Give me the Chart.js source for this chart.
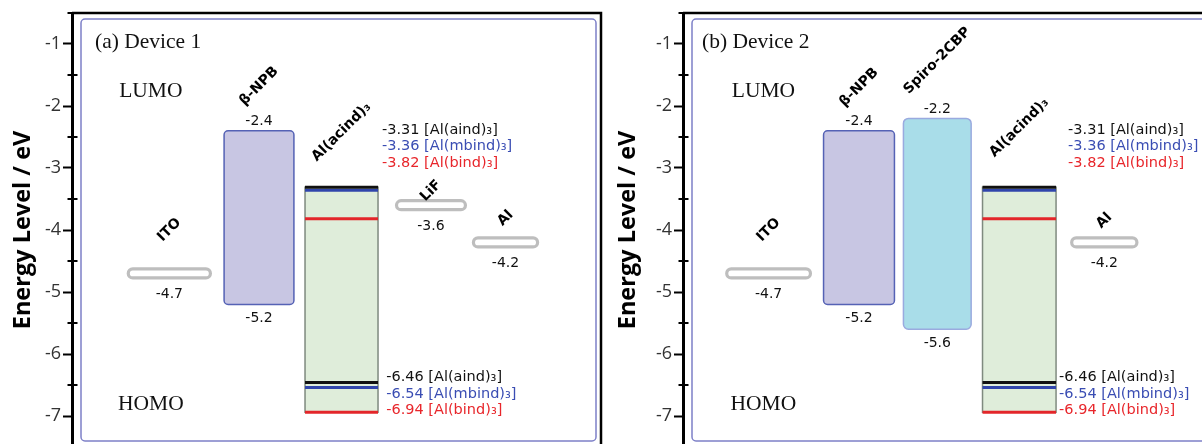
<!DOCTYPE html>
<html>
<head>
<meta charset="utf-8">
<script src="https://cdn.jsdelivr.net/npm/chart.js@4/dist/chart.umd.min.js"></script>
<style>
  html, body { margin: 0; padding: 0; background: #fff; overflow: hidden; width: 1202px; height: 444px; }
  .panel { position: absolute; top: 0; width: 604px; height: 450px; }
  #panelA { left: 0; }
  #panelB { left: 611px; }
</style>
</head>
<body>
<div class="panel" id="panelA"><canvas id="chartA"></canvas></div>
<div class="panel" id="panelB"><canvas id="chartB"></canvas></div>
<script>
// ---- energy levels (eV) ----
const yTickLabels = ['-1', '-2', '-3', '-4', '-5', '-6', '-7'];

// emitter family, LUMO / HOMO of each complex
const complexNames = ['Al(aind)₃', 'Al(mbind)₃', 'Al(bind)₃'];
const complexLumo = [-3.31, -3.36, -3.82];
const complexHomo = [-6.46, -6.54, -6.94];

// Device 1 stack: upper = LUMO or work function, lower = HOMO
const device1Layers = ['ITO', 'β-NPB', 'Al(acind)₃', 'LiF', 'Al'];
const device1Upper = [-4.7, -2.4, -3.31, -3.6, -4.2];
const device1Lower = [null, -5.2, -6.94, null, null];

// Device 2 stack
const device2Layers = ['ITO', 'β-NPB', 'Spiro-2CBP', 'Al(acind)₃', 'Al'];
const device2Upper = [-4.7, -2.4, -2.2, -3.31, -4.2];
const device2Lower = [null, -5.2, -5.6, -6.94, null];

// ---- layout (x in panel units 0..10, label heights in eV) ----
const panelLayouts = [
  {
    canvas: 'chartA', caption: '(a) Device 1',
    layers: device1Layers, upper: device1Upper, lower: device1Lower,
    centers: [1.84, 3.535, 5.095, 6.786, 8.195],
    widths:  [1.61, 1.32, 1.38, 1.36, 1.27],
    nameY:   [-4.0, -1.68, -2.42, -3.37, -3.81],
    captionX: 0.435, sideX: 1.49, topListX: 5.86, bottomListX: 5.94,
    axisTitlePad: 9.4
  },
  {
    canvas: 'chartB', caption: '(b) Device 2',
    layers: device2Layers, upper: device2Upper, lower: device2Lower,
    centers: [1.618, 3.327, 4.807, 6.357, 7.964],
    widths:  [1.64, 1.34, 1.28, 1.39, 1.29],
    nameY:   [-4.0, -1.70, -1.27, -2.35, -3.85],
    captionX: 0.36, sideX: 1.52, topListX: 7.28, bottomListX: 7.11,
    axisTitlePad: 3.4
  }
];

// ---- styles ----
const STACK = 'Al(acind)₃';
const boxStyles = {
  'β-NPB':      { fill: '#c8c6e3', stroke: '#5562b5', radius: 4 },
  'Spiro-2CBP': { fill: '#a9dde9', stroke: '#9aaadf', radius: 5 },
  'Al(acind)₃': { fill: '#dfedda', stroke: '#7f8a7f', radius: 0 }
};
const complexColors = ['#111111', '#3045ab', '#e3262a'];
const complexTextColors = ['#111111', '#3a4db3', '#e8262b'];
const sansFont = '"DejaVu Sans", sans-serif';
const serifFont = '"Liberation Serif", "Times New Roman", serif';
const listLineHeight = 16.4;

function levelLineDatasets(p) {
  const k = p.layers.indexOf(STACK);
  const x0 = p.centers[k] - p.widths[k] / 2;
  const x1 = p.centers[k] + p.widths[k] / 2;
  const sets = [];
  complexNames.forEach((n, i) => {
    [complexLumo[i], complexHomo[i]].forEach(v => {
      sets.push({
        label: n,
        data: [{ x: x0, y: v }, { x: x1, y: v }],
        borderColor: complexColors[i],
        borderWidth: 3,
        pointRadius: 0,
        fill: false,
        tension: 0
      });
    });
  });
  return sets;
}

const diagramPlugin = {
  id: 'diagram',
  beforeDatasetsDraw(chart) {
    const p = chart.options.plugins.diagram.layout;
    const { ctx, chartArea: a, scales: { x, y } } = chart;
    ctx.save();
    // inner panel frame
    ctx.beginPath();
    ctx.roundRect(a.left + 9, a.top + 6, a.right - 5 - (a.left + 9), a.bottom - 6 - (a.top + 6), 4);
    ctx.strokeStyle = '#7d80c8';
    ctx.lineWidth = 1.5;
    ctx.stroke();

    p.layers.forEach((name, i) => {
      const xl = x.getPixelForValue(p.centers[i] - p.widths[i] / 2);
      const xr = x.getPixelForValue(p.centers[i] + p.widths[i] / 2);
      if (p.lower[i] === null) {
        // electrode: pill at the work function
        const yc = y.getPixelForValue(p.upper[i]);
        const h = 9;
        ctx.beginPath();
        ctx.roundRect(xl + 1.5, yc - h / 2, xr - xl - 3, h, h / 2);
        ctx.fillStyle = '#ffffff';
        ctx.fill();
        ctx.strokeStyle = '#bebebe';
        ctx.lineWidth = 3.2;
        ctx.stroke();
      } else {
        const st = boxStyles[name];
        const yt = y.getPixelForValue(p.upper[i]);
        const yb = y.getPixelForValue(p.lower[i]);
        ctx.beginPath();
        ctx.roundRect(xl, yt, xr - xl, yb - yt, st.radius);
        ctx.fillStyle = st.fill;
        ctx.fill();
        ctx.strokeStyle = st.stroke;
        ctx.lineWidth = 1.5;
        ctx.stroke();
      }
    });
    ctx.restore();
  },
  afterDatasetsDraw(chart) {
    const p = chart.options.plugins.diagram.layout;
    const { ctx, scales: { x, y } } = chart;
    ctx.save();
    ctx.fillStyle = '#111';

    // caption and LUMO / HOMO side notes
    ctx.font = '21.5px ' + serifFont;
    ctx.textBaseline = 'middle';
    ctx.textAlign = 'left';
    ctx.fillText(p.caption, x.getPixelForValue(p.captionX), y.getPixelForValue(-0.97));
    ctx.textAlign = 'center';
    ctx.fillText('LUMO', x.getPixelForValue(p.sideX), y.getPixelForValue(-1.76));
    ctx.fillText('HOMO', x.getPixelForValue(p.sideX), y.getPixelForValue(-6.81));

    p.layers.forEach((name, i) => {
      const xc = x.getPixelForValue(p.centers[i]);
      // layer name, rotated
      ctx.save();
      ctx.translate(xc, y.getPixelForValue(p.nameY[i]));
      ctx.rotate(-Math.PI / 4);
      ctx.font = 'bold 14px ' + sansFont;
      ctx.textAlign = 'center';
      ctx.textBaseline = 'middle';
      ctx.fillStyle = '#000';
      ctx.fillText(name, 0, 0);
      ctx.restore();

      if (name === STACK) return;
      ctx.font = '14px ' + sansFont;
      ctx.textAlign = 'center';
      ctx.textBaseline = 'middle';
      ctx.fillStyle = '#111';
      const yu = y.getPixelForValue(p.upper[i]);
      if (p.lower[i] === null) {
        ctx.fillText(String(p.upper[i]), xc, yu + 21);
      } else {
        ctx.fillText(String(p.upper[i]), xc, yu - 9.5);
        ctx.fillText(String(p.lower[i]), xc, y.getPixelForValue(p.lower[i]) + 13.8);
      }
    });

    // complex level lists
    ctx.font = '14.5px ' + sansFont;
    ctx.textAlign = 'left';
    ctx.textBaseline = 'middle';
    const yTop = y.getPixelForValue(-2.387);
    const yBot = y.getPixelForValue(-6.38);
    complexNames.forEach((n, i) => {
      ctx.fillStyle = complexTextColors[i];
      ctx.fillText(complexLumo[i].toFixed(2) + ' [' + n + ']', x.getPixelForValue(p.topListX), yTop + i * listLineHeight);
      ctx.fillText(complexHomo[i].toFixed(2) + ' [' + n + ']', x.getPixelForValue(p.bottomListX), yBot + i * listLineHeight);
    });
    ctx.restore();
  },
  afterDraw(chart) {
    const { ctx, chartArea: a, scales: { y } } = chart;
    ctx.save();
    ctx.strokeStyle = '#000';
    // outer frame: top and right edges
    ctx.lineWidth = 2.5;
    ctx.beginPath();
    ctx.moveTo(a.left, a.top);
    ctx.lineTo(a.right, a.top);
    ctx.lineTo(a.right, a.bottom);
    ctx.stroke();
    // half-step minor ticks crossing the axis
    ctx.lineWidth = 2;
    y.ticks.forEach(t => {
      if (Number.isInteger(t.value)) return;
      const py = Math.round(y.getPixelForValue(t.value));
      ctx.beginPath();
      ctx.moveTo(a.left - 4.5, py);
      ctx.lineTo(a.left + 5.5, py);
      ctx.stroke();
    });
    ctx.restore();
  }
};

panelLayouts.forEach(p => {
  new Chart(document.getElementById(p.canvas), {
    type: 'line',
    data: { datasets: levelLineDatasets(p) },
    options: {
      responsive: true,
      maintainAspectRatio: false,
      animation: false,
      layout: { padding: { top: 13, right: 3, bottom: 3, left: 0 } },
      plugins: {
        legend: { display: false },
        tooltip: { enabled: false },
        diagram: { layout: p }
      },
      scales: {
        x: { type: 'linear', min: 0, max: 10, display: false },
        y: {
          type: 'linear', min: -7.5, max: -0.5,
          afterFit(s) { s.width = 72; s.paddingTop = 0; s.paddingBottom = 0; },
          ticks: {
            stepSize: 0.5, autoSkip: false, padding: 2, color: '#333',
            font: { family: 'Open Sans', size: 18 },
            callback(v) { const s = String(v); return yTickLabels.includes(s) ? s : ''; }
          },
          grid: {
            drawOnChartArea: false, drawTicks: true, tickLength: 9, tickWidth: 2,
            tickColor: c => (c.tick && Number.isInteger(c.tick.value)) ? '#000' : 'rgba(0,0,0,0)'
          },
          border: { display: true, color: '#000', width: 3 },
          title: {
            display: true, text: 'Energy Level / eV', color: '#000',
            font: { family: 'Open Sans', size: 23.5, weight: 'bold' },
            padding: { top: p.axisTitlePad, bottom: 0 }
          }
        }
      }
    },
    plugins: [diagramPlugin]
  });
});
</script>
</body>
</html>
